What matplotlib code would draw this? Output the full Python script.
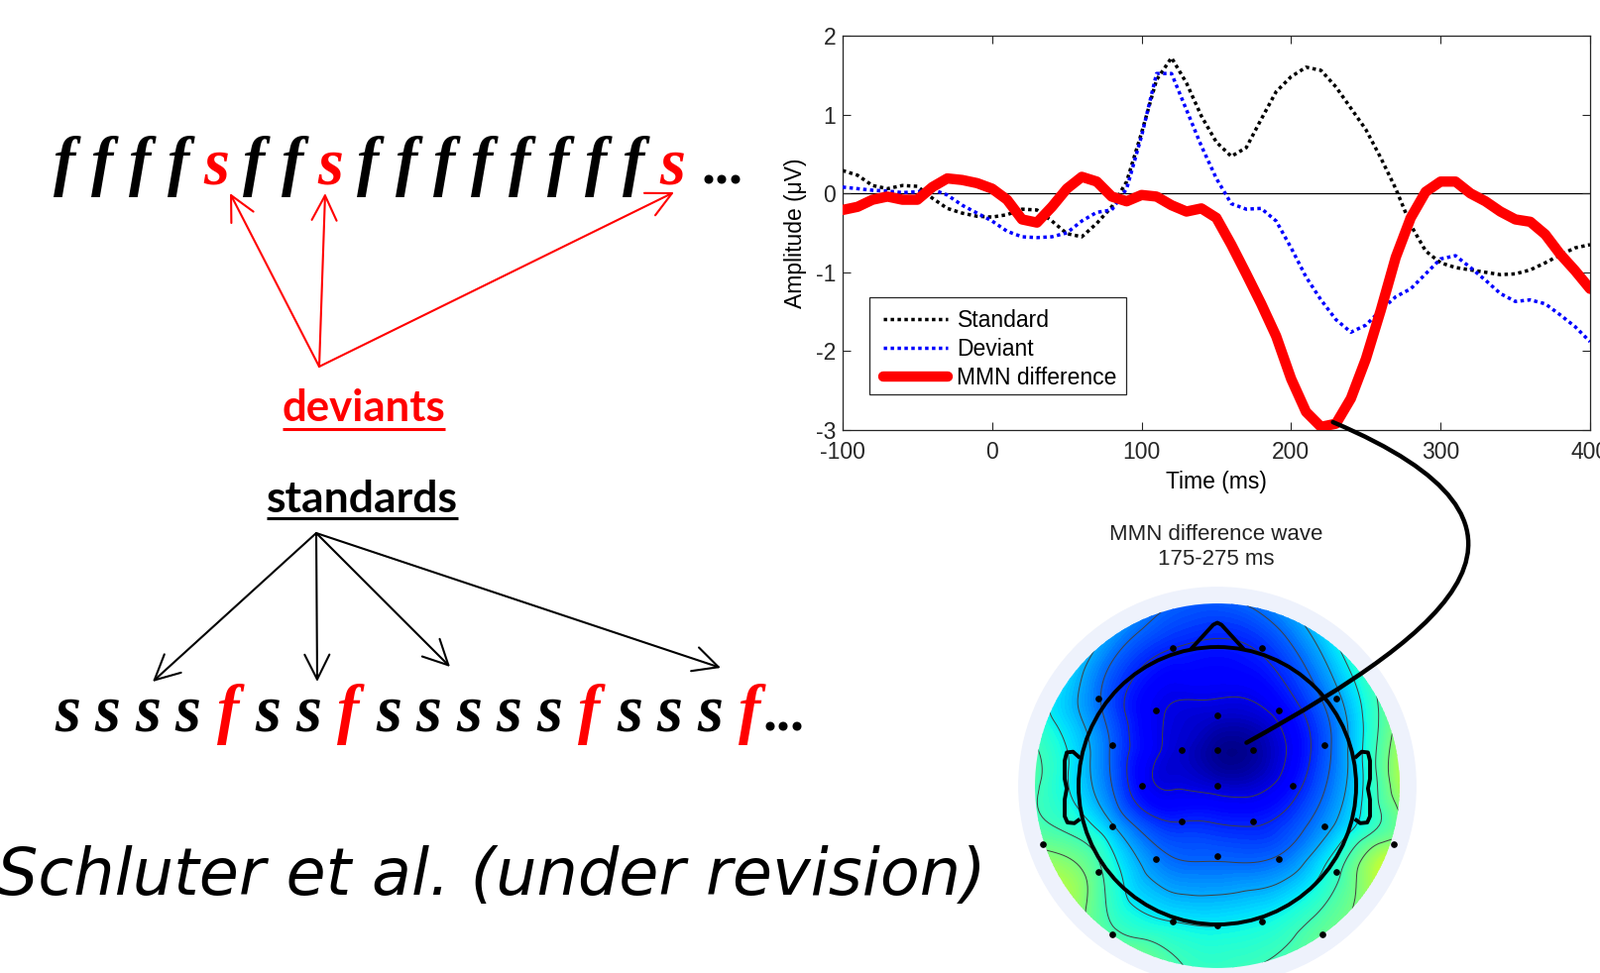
import numpy as np
import matplotlib
matplotlib.use("Agg")
import matplotlib.pyplot as plt
import matplotlib.tri as mtri
from matplotlib.patches import Circle, PathPatch, FancyArrowPatch, Polygon, Rectangle
from matplotlib.path import Path

plt.rcParams['axes.unicode_minus'] = False

# ---- ERP waveforms, 10 ms steps ----
time_ms = list(range(-100, 401, 10))
standard = [0.29, 0.23, 0.10, 0.06, 0.10, 0.09, -0.06, -0.19, -0.25, -0.29,
            -0.30, -0.27, -0.20, -0.21, -0.35, -0.51, -0.55, -0.38, -0.17, 0.15,
            0.77, 1.44, 1.72, 1.40, 0.98, 0.65, 0.47, 0.58, 0.94, 1.29,
            1.48, 1.60, 1.56, 1.35, 1.08, 0.81, 0.45, 0.06, -0.40, -0.73,
            -0.88, -0.94, -0.97, -1.00, -1.03, -1.02, -0.97, -0.88, -0.78, -0.69,
            -0.65]
deviant = [0.08, 0.06, 0.04, 0.03, 0.01, 0.02, 0.05, -0.02, -0.15, -0.25,
           -0.35, -0.48, -0.55, -0.56, -0.55, -0.50, -0.35, -0.24, -0.21, 0.06,
           0.73, 1.52, 1.52, 1.06, 0.60, 0.19, -0.13, -0.20, -0.19, -0.35,
           -0.69, -1.06, -1.35, -1.60, -1.76, -1.67, -1.48, -1.31, -1.21, -1.02,
           -0.83, -0.79, -0.94, -1.10, -1.27, -1.37, -1.35, -1.40, -1.54, -1.69,
           -1.88]
mmn = [-0.21, -0.17, -0.08, -0.04, -0.08, -0.08, 0.08, 0.19, 0.17, 0.13,
       0.06, -0.08, -0.33, -0.37, -0.17, 0.06, 0.21, 0.15, -0.04, -0.10,
       -0.02, -0.04, -0.15, -0.23, -0.19, -0.31, -0.65, -1.02, -1.40, -1.81,
       -2.35, -2.77, -2.96, -2.92, -2.60, -2.10, -1.48, -0.81, -0.31, 0.02,
       0.15, 0.15, 0.00, -0.10, -0.23, -0.33, -0.36, -0.52, -0.77, -0.98,
       -1.21]
legend_labels = ["Standard", "Deviant", "MMN difference"]
x_ticks = [-100, 0, 100, 200, 300, 400]
y_ticks = [-3, -2, -1, 0, 1, 2]

# ---- topography: electrode positions (head radius = 1) and values (uV) ----
elec_x = [-0.32, 0.32, -0.86, 0.86, -0.44, 0.00, 0.44, -0.76, -0.26, 0.00,
          0.26, 0.77, -0.54, 0.00, 0.54, -0.76, -0.26, 0.26, 0.77, -1.26,
          1.27, -0.86, 0.86, -0.44, 0.00, 0.44, -0.32, 0.00, 0.32, -0.76, 0.76]
elec_y = [0.99, 0.99, 0.63, 0.63, 0.54, 0.51, 0.54, 0.29, 0.26, 0.26,
          0.26, 0.29, 0.00, 0.00, 0.00, -0.29, -0.26, -0.26, -0.29, -0.42,
          -0.42, -0.62, -0.62, -0.53, -0.51, -0.53, -0.98, -1.01, -0.98, -1.07, -1.07]
elec_val = [-2.05, -2.0, -1.6, -1.35, -2.4, -2.6, -2.35, -1.7, -2.6, -2.9,
            -2.85, -1.8, -2.3, -2.6, -2.2, -1.2, -2.05, -2.1, -1.4, -0.15,
            0.1, -0.35, -0.55, -1.5, -1.7, -1.6, -0.85, -0.85, -0.8, -0.35, -0.2]
rim_angle = [0, 20, 40, 60, 80, 100, 120, 140, 160, 180,
             200, 220, 240, 260, 280, 300, 320, 340]
rim_val = [0.4, -0.1, -0.6, -1.15, -1.6, -1.7, -1.4, -1.05, -0.7, -0.35,
           -0.05, 0.2, -0.2, -0.45, -0.45, -0.25, 0.05, 0.3]

# ---- oddball sequences ----
seq_top = "ffffsffsffffffffs"
seq_bottom = "ssssfssfsssssfsssf"

W, H = 1614, 982
fig = plt.figure(figsize=(W / 100, H / 100), dpi=100)
fig.patch.set_facecolor("white")

# full-figure axes in pixel units for the slide-like annotations
bg = fig.add_axes([0, 0, 1, 1])
bg.set_xlim(0, W)
bg.set_ylim(H, 0)
bg.axis("off")

serif = dict(family="Liberation Serif", style="italic", weight="bold", fontsize=48)
for i, ch in enumerate(seq_top):
    bg.text(65 + 38.3 * i, 185, ch, color="red" if ch == "s" else "black",
            ha="center", va="baseline", **serif)
bg.text(708, 185, "...", color="black", ha="left", va="baseline",
        family="Liberation Serif", weight="bold", fontsize=40)
for i, ch in enumerate(seq_bottom):
    bg.text(68 + 40.5 * i, 738, ch, color="red" if ch == "f" else "black",
            ha="center", va="baseline", **serif)
bg.text(770, 738, "...", color="black", ha="left", va="baseline",
        family="Liberation Serif", weight="bold", fontsize=40)

lab_dev = bg.text(367, 425, "deviants", color="red", ha="center", va="baseline",
                  family="Lato", weight="bold", fontsize=31.5)
lab_std = bg.text(365, 517, "standards", color="black", ha="center", va="baseline",
                  family="Lato", weight="bold", fontsize=32)

# arrows
for tip in [(232, 195), (328, 195), (680, 194)]:
    bg.add_patch(FancyArrowPatch((322, 370), tip, arrowstyle="->,head_length=0.9,head_width=0.45",
                                 mutation_scale=20, color="red", lw=1.5, shrinkA=0, shrinkB=0))
for tip in [(154, 688), (320, 688), (454, 673), (727, 674)]:
    bg.add_patch(FancyArrowPatch((319, 538), tip, arrowstyle="->,head_length=0.9,head_width=0.45",
                                 mutation_scale=20, color="black", lw=1.5, shrinkA=0, shrinkB=0))

bg.text(-3, 903, "Schluter et al. (under revision)", color="black", ha="left",
        va="baseline", family="DejaVu Sans", style="oblique", fontsize=47)

# ---- ERP chart ----
ax = fig.add_axes([850 / W, 1 - 434 / H, 754 / W, 398 / H])
ax.axhline(0, color="black", lw=0.9, zorder=1)
ax.plot(time_ms, standard, color="black", lw=2.5, ls=(0, (1, 1)), label=legend_labels[0], zorder=3)
ax.plot(time_ms, deviant, color="blue", lw=2.5, ls=(0, (1, 1)), label=legend_labels[1], zorder=3)
ax.plot(time_ms, mmn, color="red", lw=7.5, solid_capstyle="round", solid_joinstyle="round",
        label=legend_labels[2], zorder=4)
ax.set_xlim(-100, 400)
ax.set_ylim(-3, 2)
ax.set_xticks(x_ticks)
ax.set_yticks(y_ticks)
ax.tick_params(direction="in", top=True, right=True, length=6, width=0.8,
               labelsize=16.5, colors="#262626")
ax.tick_params(axis="x", pad=8)
ax.tick_params(axis="y", pad=5)
for lab in ax.get_xticklabels() + ax.get_yticklabels():
    lab.set_family("Liberation Sans")
for sp in ax.spines.values():
    sp.set_color("#262626")
    sp.set_linewidth(0.9)
ax.set_xlabel("Time (ms)", family="Liberation Sans", fontsize=16.5, labelpad=5)
ax.set_ylabel("Amplitude (μV)", family="Liberation Sans", fontsize=16.5, labelpad=6)

# MATLAB-style legend: entries without frame plus a separate box
leg = ax.legend(loc="upper left", bbox_to_anchor=(0.0544, 0.307), borderaxespad=0,
                frameon=False, handlelength=2.85, handletextpad=0.4, labelspacing=0.27,
                borderpad=0, prop={"family": "Liberation Sans", "size": 16.5})
leg.set_zorder(6)
ax.add_patch(Rectangle((0.0358, 0.0905), 0.3435, 0.246, transform=ax.transAxes,
                       facecolor="white", edgecolor="#262626", lw=0.9, zorder=5))

# ---- topographic map ----
tx = fig.add_axes([(1228 - 210) / W, (H - 793 - 210) / H, 420 / W, 420 / H])
tx.set_xlim(-1.5, 1.5)
tx.set_ylim(-1.5, 1.5)
tx.set_aspect("equal")
tx.axis("off")
tx.add_patch(Circle((0, 0), 1.43, color="#eef2fc", zorder=0))

rim_r = 1.34
pts_x = list(elec_x) + [rim_r * np.cos(np.deg2rad(a)) for a in rim_angle]
pts_y = list(elec_y) + [rim_r * np.sin(np.deg2rad(a)) for a in rim_angle]
pts_v = list(elec_val) + list(rim_val)
tri = mtri.Triangulation(pts_x, pts_y)
tri_r, val_r = mtri.UniformTriRefiner(tri).refine_field(np.array(pts_v), subdiv=4)
disc = Circle((0, 0), 1.314, transform=tx.transData)
cf = tx.tricontourf(tri_r, val_r, levels=np.linspace(-3.2, 3, 125), cmap="jet",
                    vmin=-3, vmax=3, zorder=1)
cf.set_clip_path(disc)
cl = tx.tricontour(tri_r, val_r, levels=[-2.45, -2.05, -1.65, -1.25, -0.85, -0.45, -0.05],
                   colors="#404040", linewidths=0.7, linestyles="solid", zorder=2)
cl.set_clip_path(disc)

# head outline, nose and ears
tx.add_patch(Circle((0, 0), 1.0, fill=False, ec="black", lw=2.8, zorder=4))
nose = Path([(-0.19, 0.985), (-0.03, 1.16), (0.0, 1.175), (0.03, 1.16), (0.19, 0.985)])
tx.add_patch(PathPatch(nose, fill=False, ec="black", lw=2.8, joinstyle="round", zorder=4))
ear_l = [(-0.99, 0.2), (-1.04, 0.245), (-1.085, 0.24), (-1.10, 0.18), (-1.10, 0.05),
         (-1.085, -0.02), (-1.10, -0.1), (-1.10, -0.22), (-1.08, -0.265), (-1.03, -0.27), (-0.99, -0.24)]
ear_r = [(-x, y) for x, y in ear_l]
for ear in (ear_l, ear_r):
    tx.add_patch(Polygon(ear, closed=False, fill=False, ec="black", lw=2.8,
                         joinstyle="round", zorder=4))
tx.plot(elec_x, elec_y, "o", color="black", ms=3.8, zorder=5)

bg.text(1227, 552, "MMN difference wave\n175-275 ms", ha="center", va="center",
        family="Liberation Sans", fontsize=16, linespacing=1.2, color="#222222")

# underline the two labels under their rendered width
fig.canvas.draw()
inv = bg.transData.inverted()
for lab, y, col in ((lab_dev, 433, "red"), (lab_std, 523, "black")):
    bb = lab.get_window_extent()
    x0 = inv.transform((bb.x0, bb.y0))[0]
    x1 = inv.transform((bb.x1, bb.y0))[0]
    bg.plot([x0, x1], [y, y], color=col, lw=2.2, solid_capstyle="butt")

# curved connector from the MMN minimum to the topomap
s = inv.transform(ax.transData.transform((228, -2.9)))
e = inv.transform(tx.transData.transform((0.21, 0.31)))
conn = Path([tuple(s), (1590, 530), (1470, 632), tuple(e)],
            [Path.MOVETO, Path.CURVE4, Path.CURVE4, Path.CURVE4])
fig.add_artist(PathPatch(conn, transform=bg.transData, fill=False, ec="black",
                         lw=3.2, capstyle="round", zorder=10))

fig.savefig("out.png", dpi=100)
